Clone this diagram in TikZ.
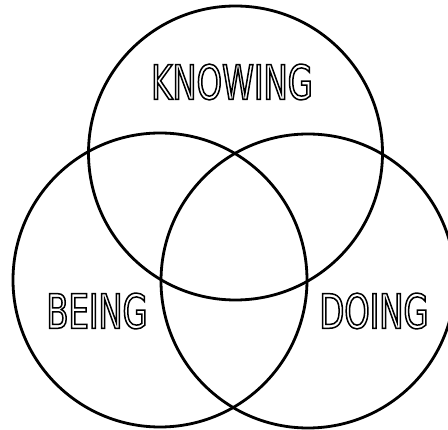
\documentclass[tikz,border=0pt]{standalone}
\usepackage{fontspec}
\usepackage{xcolor}
\usepackage{tikz}

\newfontfamily\vennfont[FakeStretch=0.68]{DejaVu Sans}
% outlined letters
\newcommand{\hollow}[1]{\special{pdf:code 1 Tr 1.5 w}#1\special{pdf:code 0 Tr}}

\begin{document}
\begin{tikzpicture}[x=1pt, y=-1pt,
        ring/.style={draw, circle, line width=2.8pt, minimum size=294pt, inner sep=0pt},
        word/.style={inner sep=0pt, font=\vennfont\fontsize{47.5}{50}\selectfont}]
        \useasboundingbox (0,0) rectangle (448,430);

        % Circles
        \node[ring] (knowing) at (235.5,153) {};
        \node[ring] (being) at (160,280) {};
        \node[ring] (doing) at (308,281) {};

        % Labels
        \node[word] (knowlbl) at (232,82) {\hollow{KNOWING}};
        \node[word] (beinglbl) at (97,311) {\hollow{BEING}};
        \node[word] (doinglbl) at (374,311) {\hollow{DOING}};
    \end{tikzpicture}
\end{document}
